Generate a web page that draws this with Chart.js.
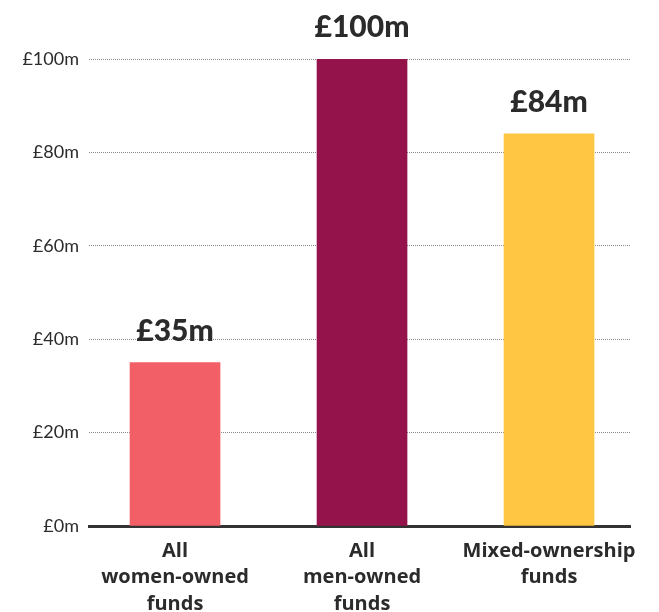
<!DOCTYPE html>
<html>
<head>
<meta charset="utf-8">
<script src="https://cdn.jsdelivr.net/npm/chart.js@4"></script>
<style>
  html, body { margin: 0; padding: 0; background: #fff; }
  #wrap { width: 659px; height: 612px; }
</style>
</head>
<body>
<div id="wrap"><canvas id="fundsChart"></canvas></div>
<script>
"use strict";

// Fund categories, drawn as multi-line axis labels
const categories = [
  ["All", "women-owned", "funds"],
  ["All", "men-owned", "funds"],
  ["Mixed-ownership", "funds"],
];

// Amounts in £ millions
const amounts = [35, 100, 84];

const barColours = ["#f35f66", "#94134a", "#fec642"];

const yTicks = [0, 20, 40, 60, 80, 100];

const textColour = "#2b2b2b";

// Writes "£XXm" above every bar
const valueLabels = {
  id: "valueLabels",
  afterDatasetsDraw(chart) {
    const ctx = chart.ctx;
    const meta = chart.getDatasetMeta(0);
    ctx.save();
    ctx.font = "900 30px Lato";
    ctx.fillStyle = textColour;
    ctx.textAlign = "center";
    ctx.textBaseline = "alphabetic";
    meta.data.forEach((bar, i) => {
      ctx.fillText("£" + amounts[i] + "m", bar.x, bar.y - 22);
    });
    ctx.restore();
  },
};

const canvas = document.querySelector("#fundsChart");

new Chart(canvas, {
  type: "bar",
  data: {
    datasets: [{
      data: amounts.map((v, i) => ({ x: i, y: v })),
      backgroundColor: barColours,
      barThickness: 90,
    }],
  },
  options: {
    responsive: true,
    maintainAspectRatio: false,
    animation: false,
    layout: { padding: { top: 59, right: 29, left: 0, bottom: 0 } },
    plugins: {
      legend: { display: false },
      tooltip: { enabled: false },
    },
    scales: {
      x: {
        type: "linear",
        offset: false,
        min: -0.46,
        max: 2.433,
        z: 1,
        afterBuildTicks: (axis) => {
          axis.ticks = categories.map((c, i) => ({ value: i }));
        },
        afterFit: (axis) => { axis.height = 86; },
        grid: { display: false, drawTicks: false },
        border: { display: true, color: "#333", width: 3 },
        ticks: {
          autoSkip: false,
          maxRotation: 0,
          padding: 12,
          color: textColour,
          font: { family: "Open Sans", size: 20, weight: "bold", lineHeight: 1.32 },
          callback: (v) => categories[v],
        },
      },
      y: {
        min: 0,
        max: 100,
        afterBuildTicks: (axis) => {
          axis.ticks = yTicks.map((v) => ({ value: v }));
        },
        afterFit: (axis) => { axis.width = 89; },
        border: { display: false, dash: [1, 1] },
        grid: {
          drawTicks: false,
          lineWidth: 1,
          color: (ctx) => (ctx.tick && ctx.tick.value === 0 ? "rgba(0,0,0,0)" : "#8a8a8a"),
        },
        ticks: {
          padding: 10,
          color: textColour,
          font: { family: "Lato", size: 18 },
          callback: (v) => "£" + v + "m",
        },
      },
    },
  },
  plugins: [valueLabels],
});
</script>
</body>
</html>
